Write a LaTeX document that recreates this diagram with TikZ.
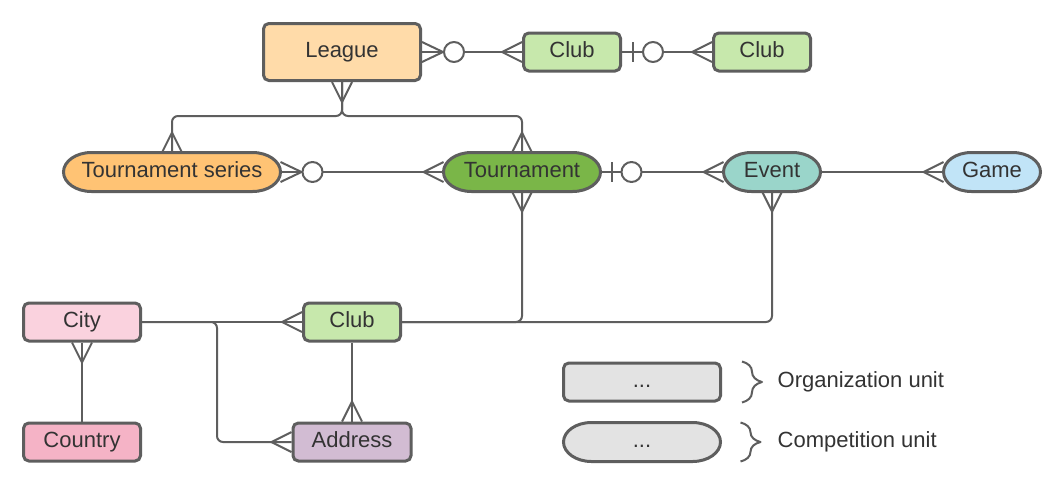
\documentclass[tikz,border=0pt]{standalone}
\usepackage{fontspec}
\setmainfont{Liberation Sans}
\usetikzlibrary{calc, backgrounds, decorations.pathreplacing}

\definecolor{edge}{HTML}{5E5E5E}
\definecolor{ink}{HTML}{333333}
\definecolor{leaguefill}{HTML}{FFDBA9}
\definecolor{clubfill}{HTML}{C7E8AC}
\definecolor{seriesfill}{HTML}{FFC374}
\definecolor{tournfill}{HTML}{7AB648}
\definecolor{eventfill}{HTML}{9AD5CA}
\definecolor{gamefill}{HTML}{C1E4F7}
\definecolor{cityfill}{HTML}{FAD2DE}
\definecolor{countryfill}{HTML}{F5B3C6}
\definecolor{addressfill}{HTML}{D2BCD3}
\definecolor{unitfill}{HTML}{E3E3E3}

\tikzset{
    unitfont/.style={text=ink, font=\fontsize{16.5}{19}\selectfont, text height=11.6pt, text depth=3pt},
    % Organization units (boxes)
    orgunit/.style={unitfont, draw=edge, line width=2.25pt, rounded corners=4pt, minimum height=28.5pt},
    league/.style={orgunit, fill=leaguefill, minimum width=117.75pt, minimum height=42.75pt},
    club/.style={orgunit, fill=clubfill, minimum width=72.75pt},
    city/.style={orgunit, fill=cityfill, minimum width=87.75pt},
    country/.style={orgunit, fill=countryfill, minimum width=87.75pt},
    address/.style={orgunit, fill=addressfill, minimum width=88.5pt},
    % Competition units (outline drawn on background layer)
    compunit/.style={unitfont, minimum height=29.25pt, outer sep=0pt},
    pillline/.style={draw=edge, line width=2.25pt},
    % Relations
    conn/.style={draw=edge, line width=1.5pt, line join=round},
    legendtext/.style={unitfont, anchor=west},
    % Crow's foot ends
    crow/.pic={\draw[conn] (0,-10) -- (20,0) -- (0,10);},
    zeromany/.pic={\draw[conn] (0,-10) -- (21,0) -- (0,10); \draw[conn, fill=white] (32,0) circle[radius=10];},
    zeroone/.pic={\draw[conn] (11,-10) -- (11,10); \draw[conn, fill=white] (31,0) circle[radius=10];}
}

\begin{document}
\begin{tikzpicture}[x=0.75pt, y=-0.75pt]
    \useasboundingbox (0,0) rectangle (1063,483);

    % Top row
    \node[league] (league) at (342,52) {League};
    \node[club] (clubA) at (572,52) {Club};
    \node[club] (clubB) at (762,52) {Club};

    % Competition row
    \node[compunit, minimum width=162.75pt] (tseries) at (172,172) {Tournament series};
    \node[compunit, minimum width=117.75pt] (tourn) at (522,172) {Tournament};
    \node[compunit, minimum width=72.75pt] (event) at (772,172) {Event};
    \node[compunit, minimum width=72.75pt] (game) at (992,172) {Game};

    % Bottom rows
    \node[city] (city) at (82,322) {City};
    \node[club] (clubC) at (352,322) {Club};
    \node[country] (country) at (82,442) {Country};
    \node[address] (address) at (352,442) {Address};

    % Legend
    \node[orgunit, fill=unitfill, minimum width=117.75pt] (legrect) at (642,382) {...};
    \node[compunit, minimum width=117.75pt] (legpill) at (642,442) {...};
    \node[legendtext] (orglabel) at (773,382) {Organization unit};
    \node[legendtext] (complabel) at (773,442) {Competition unit};
    \draw[conn, decorate, decoration={brace, amplitude=15pt}] ($(legrect.north east)+(20,0)$) -- ($(legrect.south east)+(20,0)$);
    \draw[conn, decorate, decoration={brace, amplitude=15pt}] ($(legpill.north east)+(20,0)$) -- ($(legpill.south east)+(20,0)$);

    % Pill outlines
    \begin{scope}[on background layer]
        \fill[white] (0,0) rectangle (1063,483);
        \foreach \n/\c in {tseries/seriesfill, tourn/tournfill, event/eventfill, game/gamefill, legpill/unitfill}
            \draw[pillline, fill=\c] ($(\n.north west)+(28,0)$) -- ($(\n.north east)+(-28,0)$)
                arc[start angle=-90, end angle=90, x radius=28, y radius=19.5]
                -- ($(\n.south west)+(28,0)$)
                arc[start angle=90, end angle=270, x radius=28, y radius=19.5] -- cycle;
    \end{scope}

    % League relations
    \draw[conn] (league.east) -- (clubA.west);
    \pic at (league.east) {zeromany};
    \pic[rotate=180] at (clubA.west) {crow};
    \draw[conn] (clubA.east) -- (clubB.west);
    \pic at (clubA.east) {zeroone};
    \pic[rotate=180] at (clubB.west) {crow};
    \draw[conn, rounded corners=4.5pt] (league.south) -- ++(0,34) -| (tseries.north);
    \draw[conn, rounded corners=4.5pt] (league.south) -- ++(0,34) -| (tourn.north);
    \pic[rotate=-90] at (league.south) {crow};
    \pic[rotate=90] at (tseries.north) {crow};
    \pic[rotate=90] at (tourn.north) {crow};

    % Competition relations
    \draw[conn] (tseries.east) -- (tourn.west);
    \pic at (tseries.east) {zeromany};
    \pic[rotate=180] at (tourn.west) {crow};
    \draw[conn] (tourn.east) -- (event.west);
    \pic at (tourn.east) {zeroone};
    \pic[rotate=180] at (event.west) {crow};
    \draw[conn] (event.east) -- (game.west);
    \pic[rotate=180] at (game.west) {crow};

    % Club, city, address
    \draw[conn, rounded corners=4.5pt] (tourn.south) |- (clubC.east);
    \draw[conn, rounded corners=4.5pt] (event.south) |- (clubC.east);
    \pic[rotate=-90] at (tourn.south) {crow};
    \pic[rotate=-90] at (event.south) {crow};
    \draw[conn] (city.east) -- (clubC.west);
    \pic[rotate=180] at (clubC.west) {crow};
    \draw[conn, rounded corners=4.5pt] (city.east) -- ++(75,0) |- (address.west);
    \pic[rotate=180] at (address.west) {crow};
    \draw[conn] (city.south) -- (country.north);
    \pic[rotate=-90] at (city.south) {crow};
    \draw[conn] (clubC.south) -- (address.north);
    \pic[rotate=90] at (address.north) {crow};
\end{tikzpicture}
\end{document}
